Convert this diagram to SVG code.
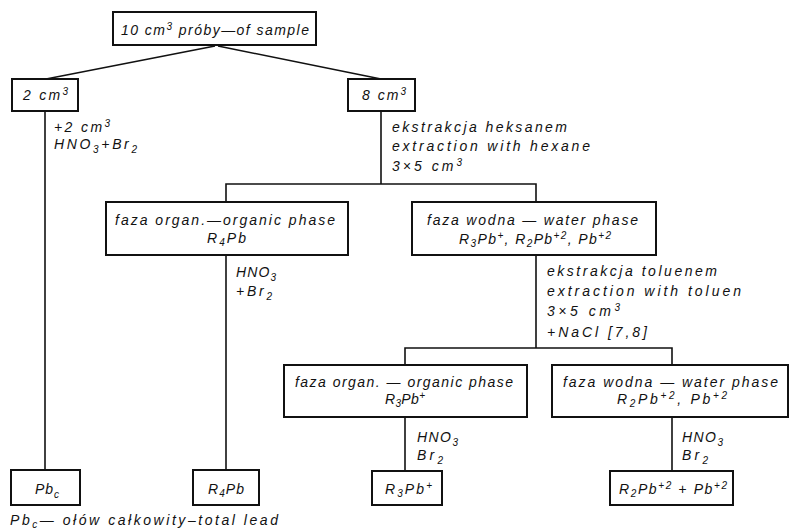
<svg xmlns="http://www.w3.org/2000/svg" width="790" height="531" viewBox="0 0 790 531">
<style>
.t{font-family:"Liberation Sans","DejaVu Sans",sans-serif;font-style:italic;font-size:14px;fill:#111}
.s{font-size:10px}
.b{fill:#fff;stroke:#111;stroke-width:2}
.c{stroke:#111;stroke-width:1.6;fill:none}
</style>
<rect width="790" height="531" fill="#fff"/>
<g id="connectors">
<path class="c" d="M215,46 L46,79"/>
<path class="c" d="M218,46 L381,79"/>
<path class="c" d="M45,111 V470"/>
<path class="c" d="M381,111 V184 M226,202 V184 H536 V202"/>
<path class="c" d="M226,255 V470"/>
<path class="c" d="M536,255 V348 M405,365 V348 H672 V365"/>
<path class="c" d="M405,417 V471"/>
<path class="c" d="M672,417 V471"/>
</g>
<g id="sample">
<rect class="b" x="113" y="12" width="203" height="33"/>
<text class="t" x="121" y="35" textLength="188" lengthAdjust="spacing">10 cm<tspan class="s" dy="-5">3</tspan><tspan dy="5"> próby—of sample</tspan></text>
</g>
<g id="n2cm">
<rect class="b" x="12" y="79" width="66" height="32"/>
<text class="t" x="23" y="100" textLength="45" lengthAdjust="spacing">2 cm<tspan class="s" dy="-5">3</tspan></text>
</g>
<g id="n8cm">
<rect class="b" x="348" y="79" width="67" height="32"/>
<text class="t" x="362" y="100" textLength="44" lengthAdjust="spacing">8 cm<tspan class="s" dy="-5">3</tspan></text>
</g>
<g id="label-2cm">
<text class="t" x="54" y="132" textLength="56" lengthAdjust="spacing">+2 cm<tspan class="s" dy="-5">3</tspan></text>
<text class="t" x="54" y="149" textLength="83" lengthAdjust="spacing">HNO<tspan class="s" dy="4">3</tspan><tspan dy="-4">+Br</tspan><tspan class="s" dy="4">2</tspan></text>
</g>
<g id="label-hexane">
<text class="t" x="392" y="132" textLength="175" lengthAdjust="spacing">ekstrakcja heksanem</text>
<text class="t" x="392" y="151" textLength="198" lengthAdjust="spacing">extraction with hexane</text>
<text class="t" x="392" y="171" textLength="70" lengthAdjust="spacing">3×5 cm<tspan class="s" dy="-5">3</tspan></text>
</g>
<g id="org1">
<rect class="b" x="106" y="202" width="242" height="53"/>
<text class="t" x="115" y="225" textLength="220" lengthAdjust="spacing">faza organ.—organic phase</text>
<text class="t" x="207" y="243" textLength="39" lengthAdjust="spacing">R<tspan class="s" dy="3">4</tspan><tspan dy="-3">Pb</tspan></text>
</g>
<g id="wat1">
<rect class="b" x="412" y="202" width="244" height="53"/>
<text class="t" x="427" y="225" textLength="211" lengthAdjust="spacing">faza wodna — water phase</text>
<text class="t" x="459" y="244" textLength="152" lengthAdjust="spacing">R<tspan class="s" dy="3">3</tspan><tspan dy="-3">Pb</tspan><tspan class="s" dy="-5">+</tspan><tspan dy="5">, R</tspan><tspan class="s" dy="3">2</tspan><tspan dy="-3">Pb</tspan><tspan class="s" dy="-5">+2</tspan><tspan dy="5">, Pb</tspan><tspan class="s" dy="-5">+2</tspan></text>
</g>
<g id="label-org1">
<text class="t" x="236" y="277" textLength="40" lengthAdjust="spacing">HNO<tspan class="s" dy="4">3</tspan></text>
<text class="t" x="236" y="296" textLength="36" lengthAdjust="spacing">+Br<tspan class="s" dy="4">2</tspan></text>
</g>
<g id="label-toluen">
<text class="t" x="547" y="276" textLength="170" lengthAdjust="spacing">ekstrakcja toluenem</text>
<text class="t" x="547" y="296" textLength="194" lengthAdjust="spacing">extraction with toluen</text>
<text class="t" x="547" y="316" textLength="73" lengthAdjust="spacing">3×5 cm<tspan class="s" dy="-5">3</tspan></text>
<text class="t" x="547" y="337" textLength="100" lengthAdjust="spacing">+NaCl  [7,8]</text>
</g>
<g id="org2">
<rect class="b" x="284" y="365" width="243" height="52"/>
<text class="t" x="295" y="387" textLength="218" lengthAdjust="spacing">faza organ. — organic phase</text>
<text class="t" x="385" y="404" textLength="40" lengthAdjust="spacing">R<tspan class="s" dy="3">3</tspan><tspan dy="-3">Pb</tspan><tspan class="s" dy="-5">+</tspan></text>
</g>
<g id="wat2">
<rect class="b" x="552" y="365" width="236" height="52"/>
<text class="t" x="563" y="387" textLength="215" lengthAdjust="spacing">faza wodna — water phase</text>
<text class="t" x="617" y="404" textLength="110" lengthAdjust="spacing">R<tspan class="s" dy="3">2</tspan><tspan dy="-3">Pb</tspan><tspan class="s" dy="-5">+2</tspan><tspan dy="5">, Pb</tspan><tspan class="s" dy="-5">+2</tspan></text>
</g>
<g id="label-org2">
<text class="t" x="417" y="442" textLength="41" lengthAdjust="spacing">HNO<tspan class="s" dy="4">3</tspan></text>
<text class="t" x="417" y="460" textLength="26" lengthAdjust="spacing">Br<tspan class="s" dy="4">2</tspan></text>
</g>
<g id="label-wat2">
<text class="t" x="682" y="442" textLength="41" lengthAdjust="spacing">HNO<tspan class="s" dy="4">3</tspan></text>
<text class="t" x="682" y="460" textLength="26" lengthAdjust="spacing">Br<tspan class="s" dy="4">2</tspan></text>
</g>
<g id="pbc">
<rect class="b" x="11" y="470" width="69" height="35"/>
<text class="t" x="35" y="494" textLength="24" lengthAdjust="spacing">Pb<tspan class="s" dy="4">c</tspan></text>
</g>
<g id="r4pb">
<rect class="b" x="193" y="470" width="66" height="35"/>
<text class="t" x="208" y="494" textLength="36" lengthAdjust="spacing">R<tspan class="s" dy="3">4</tspan><tspan dy="-3">Pb</tspan></text>
</g>
<g id="r3pb">
<rect class="b" x="372" y="471" width="70" height="34"/>
<text class="t" x="385" y="494" textLength="47" lengthAdjust="spacing">R<tspan class="s" dy="3">3</tspan><tspan dy="-3">Pb</tspan><tspan class="s" dy="-5">+</tspan></text>
</g>
<g id="r2pb">
<rect class="b" x="610" y="471" width="123" height="34"/>
<text class="t" x="619" y="494" textLength="108" lengthAdjust="spacing">R<tspan class="s" dy="3">2</tspan><tspan dy="-3">Pb</tspan><tspan class="s" dy="-5">+2</tspan><tspan dy="5"> + Pb</tspan><tspan class="s" dy="-5">+2</tspan></text>
</g>
<g id="footnote">
<text class="t" x="10" y="525" textLength="268" lengthAdjust="spacing">Pb<tspan class="s" dy="3">c</tspan><tspan dy="-3">— ołów całkowity–total lead</tspan></text>
</g>
</svg>
